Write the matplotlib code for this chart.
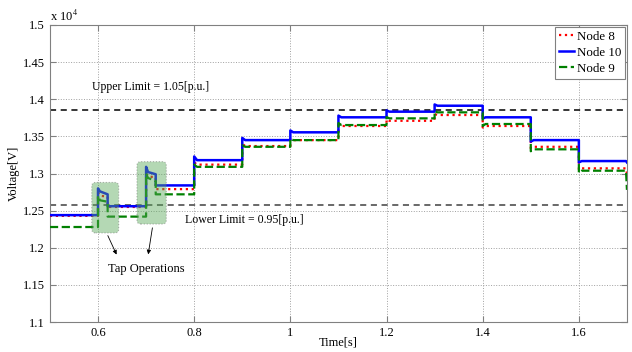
import matplotlib
matplotlib.use('Agg')
import matplotlib.pyplot as plt
from matplotlib.patches import FancyBboxPatch
from matplotlib.ticker import FuncFormatter

plt.rcParams['font.family'] = 'Liberation Serif'
plt.rcParams['mathtext.fontset'] = 'stix'
plt.rcParams['font.size'] = 9

# time axis [s] (duplicate times = vertical jumps, short spikes = tap transients)
time = [0.5, 0.6, 0.6, 0.604, 0.62, 0.62, 0.7, 0.7, 0.704, 0.72, 0.72,
        0.8, 0.8, 0.806, 0.9, 0.9, 0.906, 1.0, 1.0, 1.006, 1.1, 1.1, 1.106,
        1.2, 1.2, 1.206, 1.3, 1.3, 1.306, 1.4, 1.4, 1.406, 1.5, 1.5, 1.506,
        1.6, 1.6, 1.606, 1.698, 1.7]

# voltages [V]
node8 = [12430, 12430, 12740, 12700, 12690, 12550, 12550, 13000, 12960, 12950, 12790,
         12790, 13150, 13120, 13120, 13400, 13370, 13370, 13470, 13450, 13450, 13660, 13640,
         13640, 13730, 13710, 13710, 13800, 13788, 13788, 13620, 13640, 13640, 13340, 13360,
         13360, 13050, 13070, 13070, 13000]
node10 = [12440, 12440, 12800, 12760, 12720, 12560, 12560, 13090, 13020, 12990, 12840,
          12840, 13230, 13180, 13180, 13480, 13450, 13450, 13580, 13555, 13555, 13780, 13757,
          13757, 13850, 13833, 13833, 13930, 13913, 13913, 13740, 13757, 13757, 13430, 13450,
          13450, 13150, 13168, 13168, 13150]
node9 = [12280, 12280, 12700, 12640, 12620, 12420, 12420, 13000, 12940, 12900, 12720,
         12720, 13120, 13090, 13090, 13380, 13360, 13360, 13470, 13450, 13450, 13680, 13653,
         13653, 13760, 13743, 13743, 13840, 13824, 13824, 13640, 13667, 13667, 13300, 13326,
         13326, 13010, 13038, 13038, 12780]

upper_limit = 13860
lower_limit = 12580

y_ticks = [11000, 11500, 12000, 12500, 13000, 13500, 14000, 14500, 15000]
x_ticks = [0.6, 0.8, 1.0, 1.2, 1.4, 1.6]

# tap operation boxes: (t0, t1, v0, v1)
tap_boxes = [(0.587, 0.643, 12200, 12880), (0.681, 0.742, 12320, 13160)]

fig = plt.figure(figsize=(6.32, 3.52), dpi=100)
ax = fig.add_axes([0.079, 0.085, 0.913, 0.844])

ax.plot(time, node8, color='red', ls=':', lw=1.6, label='Node 8', zorder=3)
ax.plot(time, node10, color='blue', ls='-', lw=1.8, label='Node 10', zorder=3)
ax.plot(time, node9, color='green', ls='--', lw=1.6, label='Node 9', zorder=3)

ax.axhline(upper_limit, color='black', ls='--', lw=1.1, dashes=(4, 3), zorder=2)
ax.axhline(lower_limit, color='#404040', ls='--', lw=1.1, dashes=(4, 3), zorder=2)

ax.set_xlim(0.5, 1.7)
ax.set_ylim(11000, 15000)
ax.set_xticks(x_ticks)
ax.set_yticks(y_ticks)
ax.xaxis.set_major_formatter(FuncFormatter(lambda v, p: ('%.1f' % v).rstrip('0').rstrip('.')))
ax.yaxis.set_major_formatter(FuncFormatter(lambda v, p: ('%.2f' % (v / 1e4)).rstrip('0').rstrip('.')))
ax.tick_params(direction='in', top=True, right=True, length=4, color='#808080', labelsize=9)
ax.grid(True, ls=':', color='#a0a0a0', lw=0.7)
for s in ax.spines.values():
    s.set_color('#808080')

ax.set_xlabel('Time[s]', fontsize=9)
ax.xaxis.set_label_coords(0.5, -0.05)
ax.set_ylabel('Voltage[V]', fontsize=9)
ax.yaxis.set_label_coords(-0.052, 0.5)
ax.text(0.0, 1.002, r'x 10$^{4}$', transform=ax.transAxes, fontsize=9, ha='left', va='bottom')

for t0, t1, v0, v1 in tap_boxes:
    box = FancyBboxPatch((t0, v0), t1 - t0, v1 - v0,
                         boxstyle='round,pad=0,rounding_size=0.008', mutation_aspect=6470,
                         facecolor='#5aaa5a', alpha=0.45, edgecolor='#606060',
                         ls=':', lw=0.8, zorder=4)
    ax.add_patch(box)

ax.text(0.587, 14165, 'Upper Limit = 1.05[p.u.]', fontsize=8.5, ha='left', va='center')
ax.text(0.78, 12374, 'Lower Limit = 0.95[p.u.]', fontsize=8.5, ha='left', va='center')
ax.text(0.70, 11720, 'Tap Operations', fontsize=9, ha='center', va='center')

arrow = dict(arrowstyle='-|>', color='black', lw=0.6, mutation_scale=6)
ax.annotate('', xy=(0.641, 11875), xytext=(0.618, 12198), arrowprops=arrow)
ax.annotate('', xy=(0.7035, 11875), xytext=(0.714, 12306), arrowprops=arrow)

leg = ax.legend(loc='upper right', fontsize=9.3, handlelength=1.2, handletextpad=0.2,
                borderpad=0.3, labelspacing=0.3, borderaxespad=0.15, fancybox=False,
                framealpha=1, edgecolor='#808080')
leg.get_frame().set_linewidth(0.8)

fig.savefig('out.png', dpi=100)
